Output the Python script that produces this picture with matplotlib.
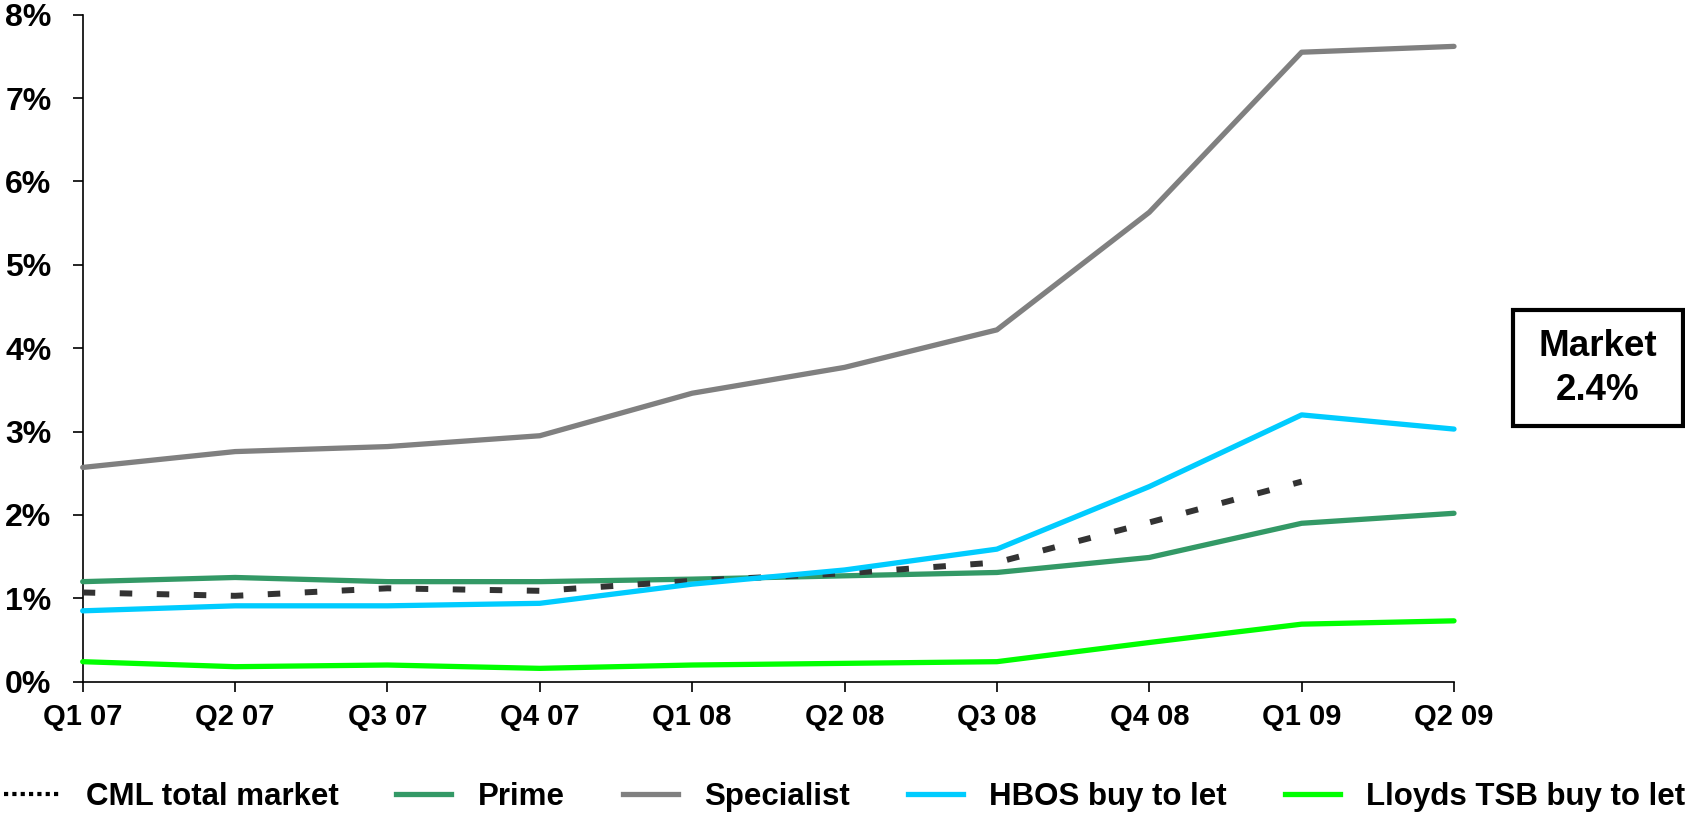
import matplotlib
matplotlib.use("Agg")
import matplotlib.pyplot as plt
from matplotlib.lines import Line2D
from matplotlib.patches import Rectangle
from matplotlib.ticker import FuncFormatter

# Quarterly arrears rates (%)
quarters = ["Q1 07", "Q2 07", "Q3 07", "Q4 07", "Q1 08",
            "Q2 08", "Q3 08", "Q4 08", "Q1 09", "Q2 09"]
cml_total = [1.07, 1.03, 1.12, 1.09, 1.21, 1.30, 1.43, 1.91, 2.4]
prime = [1.20, 1.25, 1.20, 1.20, 1.23, 1.27, 1.31, 1.49, 1.90, 2.02]
specialist = [2.57, 2.76, 2.82, 2.95, 3.46, 3.77, 4.22, 5.63, 7.55, 7.62]
hbos_btl = [0.85, 0.91, 0.91, 0.94, 1.17, 1.34, 1.59, 2.34, 3.20, 3.03]
lloyds_btl = [0.24, 0.18, 0.20, 0.16, 0.20, 0.22, 0.24, 0.47, 0.69, 0.73]
y_ticks = [0, 1, 2, 3, 4, 5, 6, 7, 8]

FONT = "Liberation Sans"
C_CML = "#333333"
C_PRIME = "#339966"
C_SPEC = "#808080"
C_HBOS = "#00CCFF"
C_LLOYDS = "#00FF00"

plt.rcParams["font.family"] = [FONT, "DejaVu Sans"]
plt.rcParams["font.weight"] = "bold"

fig = plt.figure(figsize=(16.85, 8.17), dpi=100)
ax = fig.add_axes([0.04908, 0.16561, 0.81383, 0.8164])

x_all = list(range(len(quarters)))
lw = 3.8

ax.plot(x_all, lloyds_btl, color=C_LLOYDS, lw=lw, solid_capstyle="round", zorder=3)
ax.plot(x_all, prime, color=C_PRIME, lw=lw, solid_capstyle="round", zorder=3)
ax.plot(x_all, specialist, color=C_SPEC, lw=lw, solid_capstyle="round", zorder=3)
ax.plot(x_all[:len(cml_total)], cml_total, color=C_CML, lw=4.3,
        linestyle=(0, (2.1, 4.1)), dash_capstyle="butt", zorder=4)
ax.plot(x_all, hbos_btl, color=C_HBOS, lw=lw, solid_capstyle="round", zorder=5)

ax.set_xlim(0, len(quarters) - 1)
ax.set_ylim(0, 8)
ax.set_xticks(x_all)
ax.set_xticklabels(quarters)
ax.set_yticks(y_ticks)
ax.yaxis.set_major_formatter(FuncFormatter(lambda v, p: f"{v:.0f}%"))

for s in ("top", "right"):
    ax.spines[s].set_visible(False)
for s in ("left", "bottom"):
    ax.spines[s].set_linewidth(1.2)
    ax.spines[s].set_color("black")

ax.tick_params(axis="x", direction="out", length=7.5, width=1.2, pad=8,
               labelsize=21)
ax.tick_params(axis="y", direction="out", length=7.5, width=1.2, pad=15,
               labelsize=23)
for lab in ax.get_xticklabels() + ax.get_yticklabels():
    lab.set_fontweight("bold")
for line in ax.lines:
    line.set_clip_on(False)

# Market summary box
fig.add_artist(Rectangle((1513 / 1685, 1 - 426 / 817), 170 / 1685, 116 / 817,
                         transform=fig.transFigure, fill=False,
                         edgecolor="black", linewidth=3.0))
fig.text(1598 / 1685, 1 - 346 / 817, "Market", ha="center", va="center",
         fontsize=26.5, fontweight="bold")
fig.text(1598 / 1685, 1 - 391 / 817, f"{cml_total[-1]:.1f}%", ha="center",
         va="center", fontsize=26.5, fontweight="bold")

# Legend
handles = [
    Line2D([], [], color="black", lw=3.0, linestyle=(0, (1, 1))),
    Line2D([], [], color=C_PRIME, lw=lw),
    Line2D([], [], color=C_SPEC, lw=lw),
    Line2D([], [], color=C_HBOS, lw=lw),
    Line2D([], [], color=C_LLOYDS, lw=lw),
]
labels = ["CML total market", "Prime", "Specialist", "HBOS buy to let",
          "Lloyds TSB buy to let"]
fig.legend(handles, labels, loc="center left",
           bbox_to_anchor=(4 / 1685, 1 - 797 / 817), ncol=5, frameon=False,
           prop={"family": FONT, "weight": "bold", "size": 22.5},
           handlelength=1.76, handletextpad=0.85, columnspacing=1.85,
           borderpad=0, borderaxespad=0)

fig.savefig("out.png", dpi=100, facecolor="white")
